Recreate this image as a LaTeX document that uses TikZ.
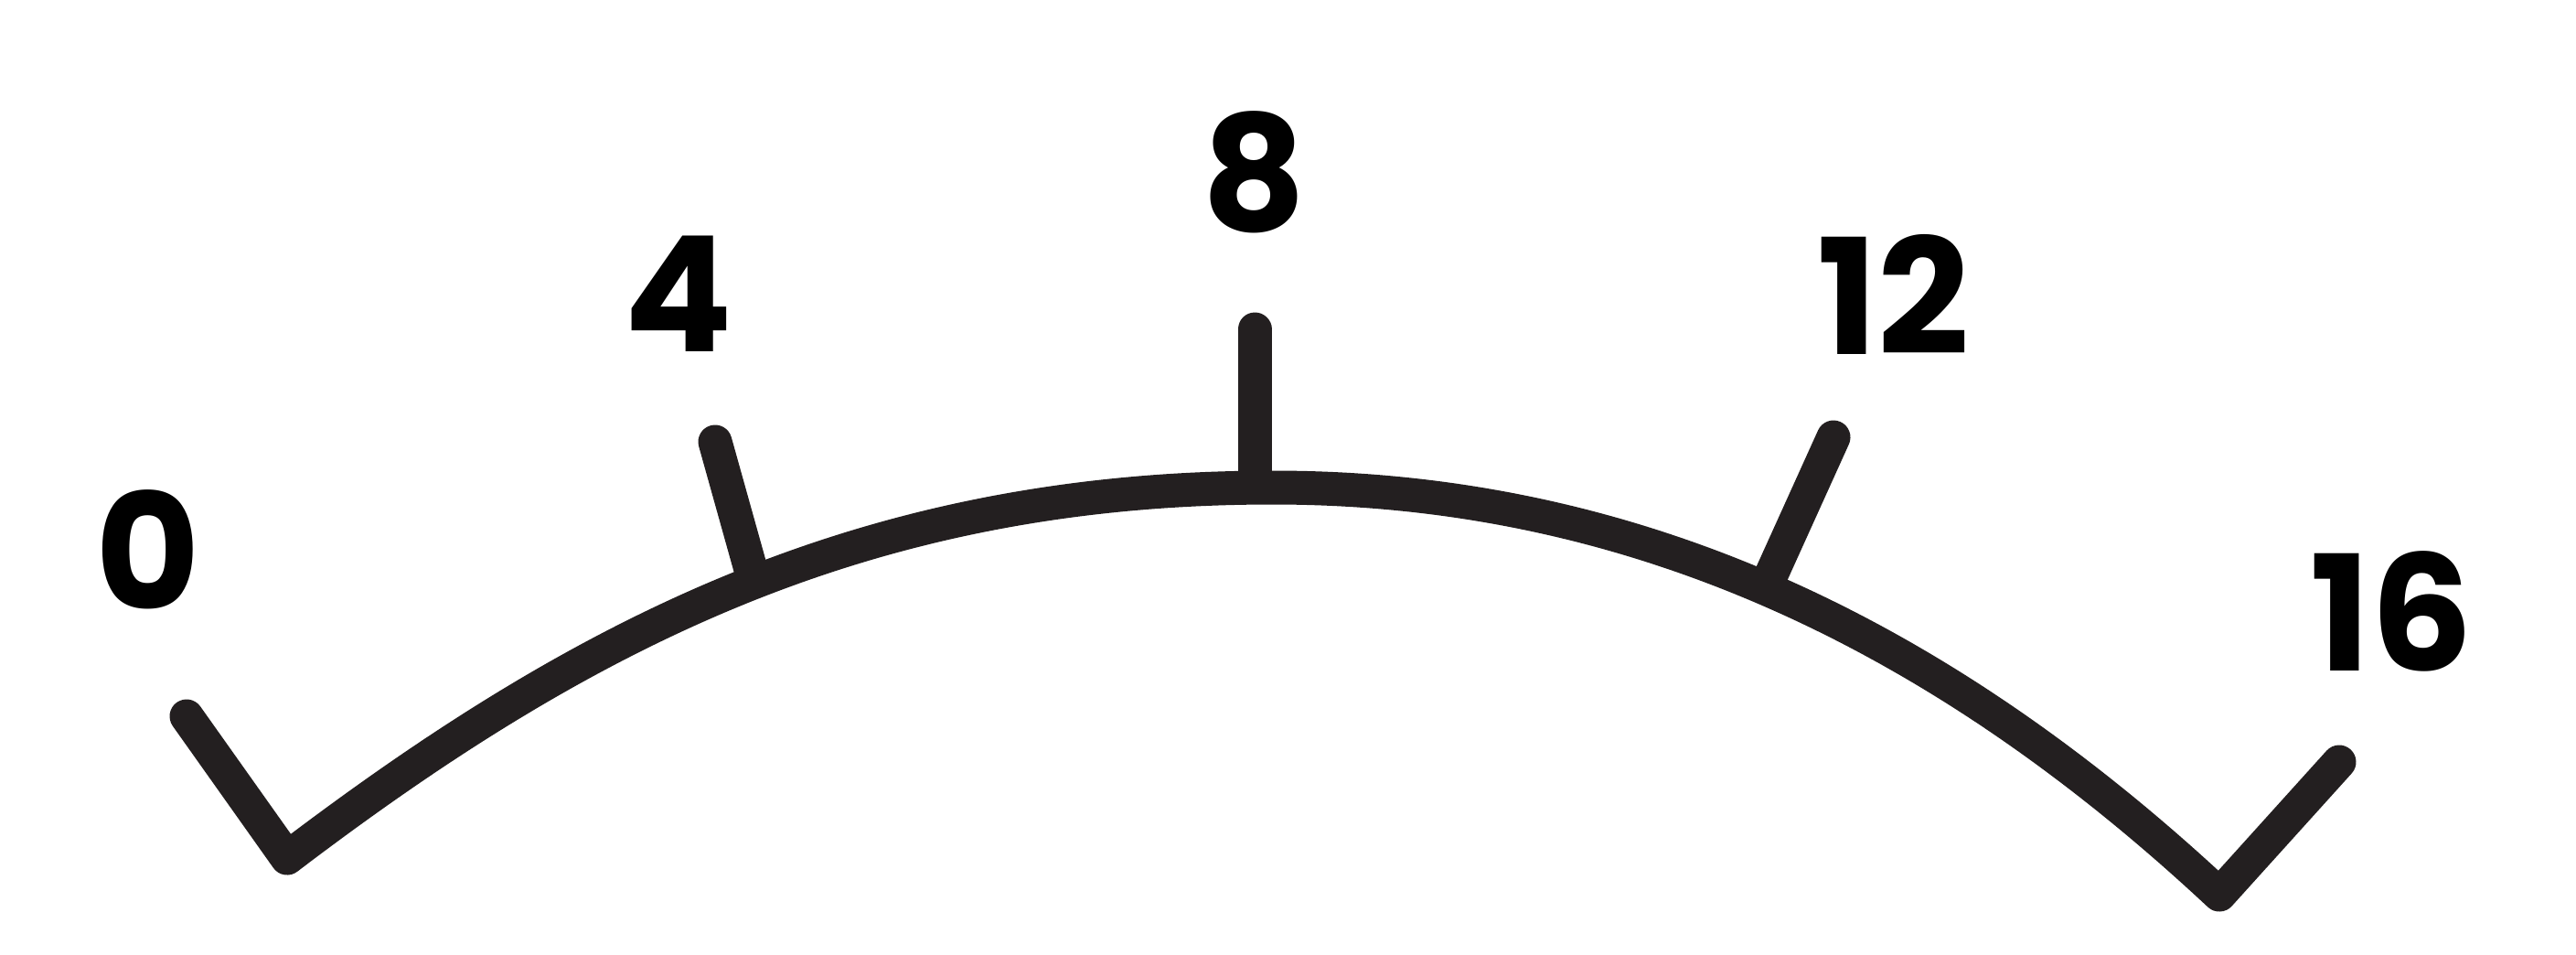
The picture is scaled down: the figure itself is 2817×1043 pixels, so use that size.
\documentclass[tikz,border=0pt]{standalone}
\usepackage{fontspec}
\setmainfont{Poppins}
\usetikzlibrary{positioning}
\definecolor{ink}{HTML}{231F20}
\tikzset{
  gauge/.style={draw=ink,line width=3.7mm,line cap=round,line join=round},
  tick/.style={draw=ink,line width=3.7mm,line cap=round},
  digit/.style={font=\fontsize{50}{50}\selectfont\bfseries,inner sep=0pt,text=black}
}
\begin{document}
\begin{tikzpicture}[x=0.1mm,y=-0.1mm]
\useasboundingbox (0,0) rectangle (2817,1043);
% scale ends and apex
\coordinate (end0) at (204,783);
\coordinate (left) at (314,938);
\coordinate (top) at (1392,533);
\coordinate (right) at (2427,978);
\coordinate (end16) at (2558,833);
% inner ticks
\coordinate (tip4) at (782,483);   \coordinate (base4) at (822,626);
\coordinate (tip8) at (1372,360);  \coordinate (base8) at (1372,528);
\coordinate (tip12) at (2005,478); \coordinate (base12) at (1938,626);
\draw[gauge] (end0) -- (left) .. controls +(326,-248) and +(-442,0) .. (top)
  .. controls +(400,0) and +(-300,-280) .. (right) -- (end16);
\draw[tick] (tip4) -- (base4);
\draw[tick] (tip8) -- (base8);
\draw[tick] (tip12) -- (base12);
% numbers
\node[digit] (n0) at (162,601) {0};
\node[digit] (n4) at (742,321) {4};
\node[digit] (n8) at (1371,188) {8};
\node[digit] (n12) at (2071,322) {12};
\node[digit] (n16) at (2615,668) {16};
\end{tikzpicture}
\end{document}
